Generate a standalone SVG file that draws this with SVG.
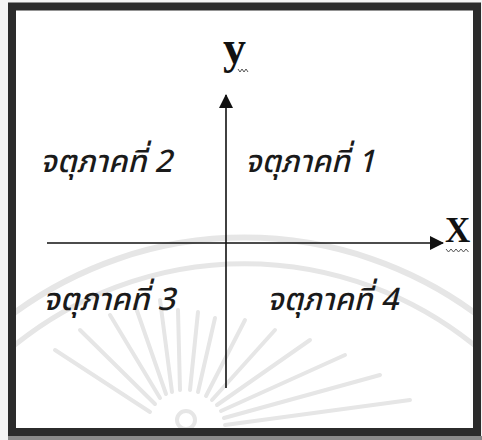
<svg xmlns="http://www.w3.org/2000/svg" width="482" height="440" viewBox="0 0 482 440">
<style>
.wm{fill:none;stroke:#e6e6e6;stroke-linecap:round}
.ax{stroke:#111;stroke-width:1.6;fill:none}
.lbl{font-family:"Noto Sans Thai","Noto Sans","DejaVu Sans",sans-serif;font-style:italic;font-size:31px;font-weight:500;fill:#1a1a1a}
.var{font-family:"Liberation Serif","Times New Roman",serif;font-weight:bold;fill:#111}
.sq{fill:none;stroke:#444;stroke-width:0.9}
</style>
<defs>
<marker id="ah" viewBox="0 0 14 14" refX="13" refY="7" markerWidth="14" markerHeight="14" markerUnits="userSpaceOnUse" orient="auto">
<path d="M0,0 L14,7 L0,14 Z" fill="#111"/>
</marker>
<clipPath id="inner"><rect x="16" y="10.5" width="457" height="417.5"/></clipPath>
</defs>
<rect width="482" height="440" fill="#f4f4f4"/>
<rect x="12" y="6.5" width="465" height="425.5" fill="#fff" stroke="#2b2b2b" stroke-width="8"/>
<rect x="8" y="436" width="474" height="4" fill="#8a8a8a"/>
<g id="watermark" clip-path="url(#inner)">
<path class="wm" stroke-width="6" d="M10,316 A390,390 0 0 1 479,316"/>
<path class="wm" stroke-width="5" d="M10,349 A365,365 0 0 1 479,349"/>
<g stroke-width="4" class="wm">
<line x1="150" y1="412" x2="55" y2="350"/>
<line x1="155" y1="404" x2="80" y2="330"/>
<line x1="160" y1="398" x2="110" y2="315"/>
<line x1="166" y1="394" x2="135" y2="305"/>
<line x1="172" y1="392" x2="160" y2="300"/>
<line x1="180" y1="390" x2="178" y2="310"/>
<line x1="190" y1="390" x2="198" y2="312"/>
<line x1="198" y1="392" x2="215" y2="318"/>
<line x1="206" y1="396" x2="245" y2="320"/>
<line x1="212" y1="400" x2="275" y2="330"/>
<line x1="217" y1="405" x2="310" y2="340"/>
<line x1="221" y1="411" x2="345" y2="355"/>
<line x1="224" y1="418" x2="380" y2="375"/>
<line x1="225" y1="425" x2="410" y2="400"/>
</g>
<circle class="wm" stroke-width="4" cx="186" cy="420" r="9"/>
</g>
<g id="connectors">
<line class="ax" x1="47" y1="243" x2="443" y2="243" marker-end="url(#ah)"/>
<line class="ax" x1="226" y1="388" x2="226" y2="95" marker-end="url(#ah)"/>
</g>
<g id="axis-y">
<text class="var" x="223" y="63" font-size="46">y</text>
<path class="sq" d="M238,69 l2,3 l2,-3 l2,3 l2,-3 l2,3"/>
</g>
<g id="axis-x">
<text class="var" x="445" y="242" font-size="35">X</text>
<path class="sq" d="M446,249 l2.5,3 l2.5,-3 l2.5,3 l2.5,-3 l2.5,3 l2.5,-3 l2.5,3 l2.5,-3 l2.5,3"/>
</g>
<g id="q2"><text class="lbl" x="40" y="172" textLength="132" lengthAdjust="spacingAndGlyphs">จตุภาคที่ 2</text></g>
<g id="q1"><text class="lbl" x="245" y="172" textLength="130" lengthAdjust="spacingAndGlyphs">จตุภาคที่ 1</text></g>
<g id="q3"><text class="lbl" x="43" y="310" textLength="132" lengthAdjust="spacingAndGlyphs">จตุภาคที่ 3</text></g>
<g id="q4"><text class="lbl" x="267" y="310" textLength="131" lengthAdjust="spacingAndGlyphs">จตุภาคที่ 4</text></g>
</svg>
